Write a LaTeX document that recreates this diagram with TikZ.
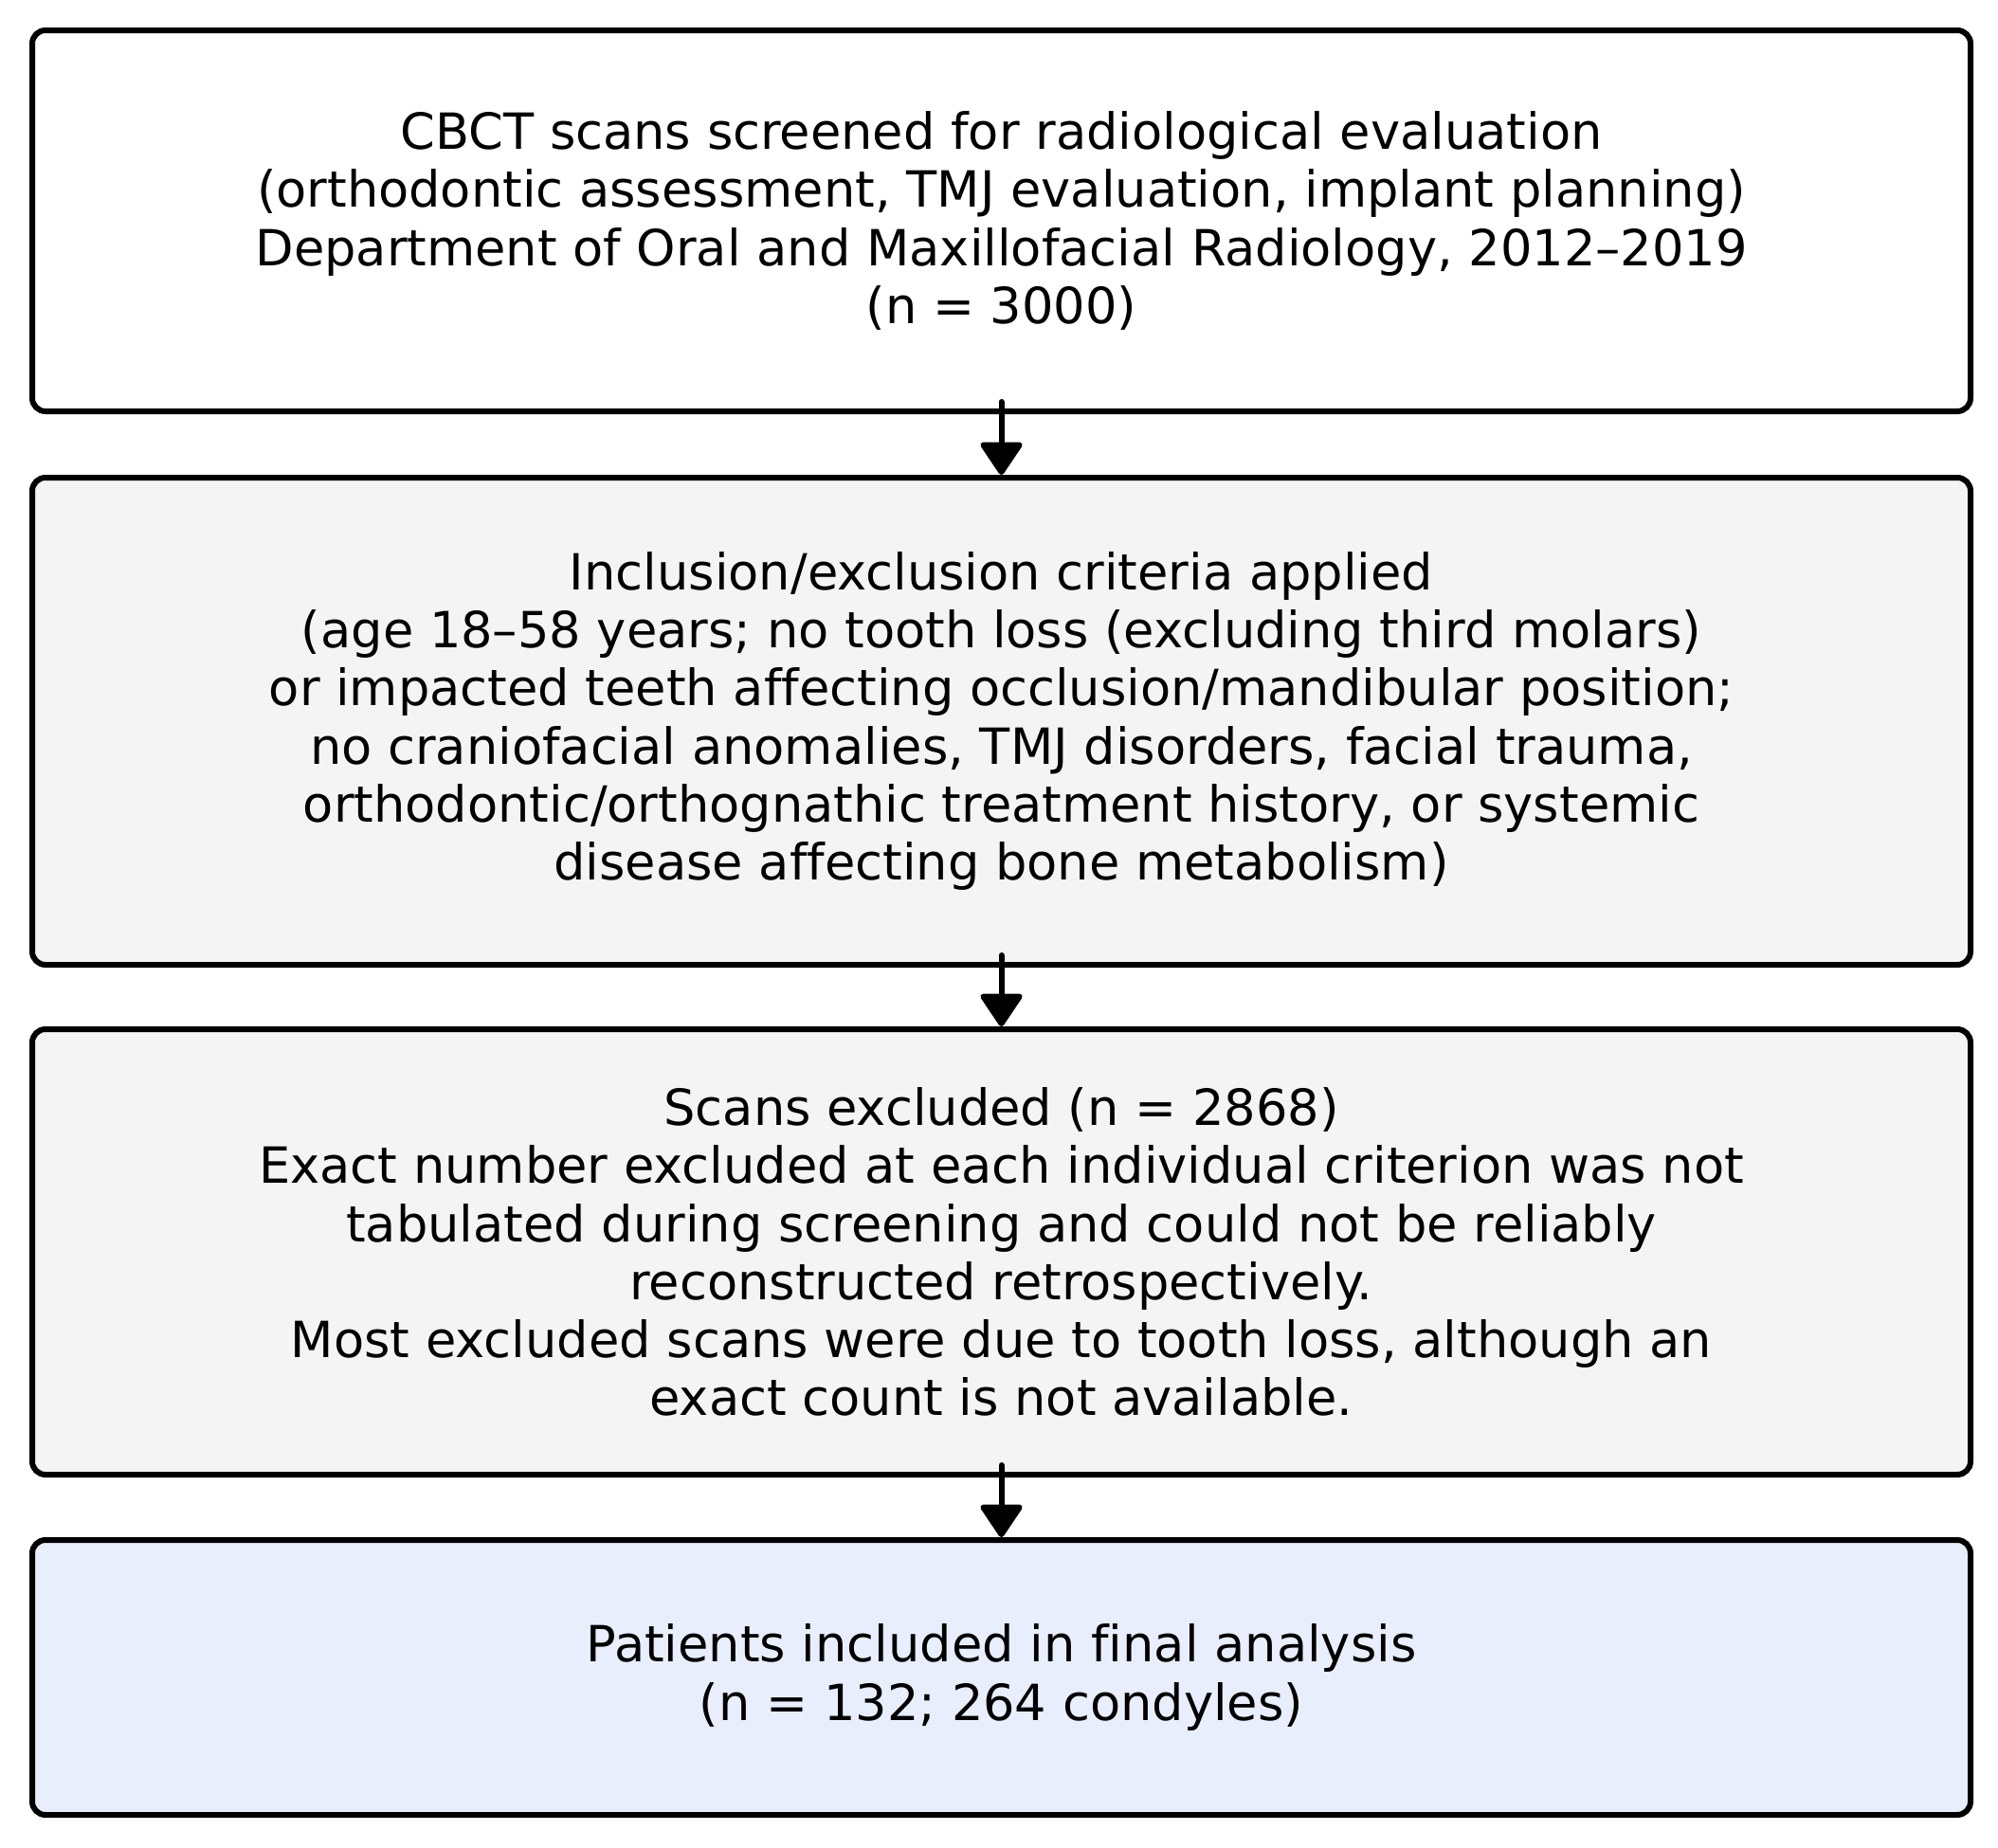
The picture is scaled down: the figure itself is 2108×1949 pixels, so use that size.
\documentclass[tikz,border=0pt]{standalone}
\usepackage{fontspec}
\setmainfont[Ligatures={NoCommon}]{DejaVu Sans}
\usetikzlibrary{arrows.meta}
\definecolor{boxgray}{HTML}{F4F4F4}
\definecolor{boxblue}{HTML}{E8EEFC}
\begin{document}
\begin{tikzpicture}[x=0.5pt,y=-0.5pt,
  box/.style={draw=black, line width=3pt, rounded corners=7pt,
    minimum width=1022.5pt, align=center, inner sep=0pt,
    font=\fontsize{26.3}{30.6}\selectfont},
  arr/.style={line width=3pt, line cap=round,
    -{Triangle[length=18.5pt,width=24pt,round]}}]
\useasboundingbox[fill=white] (0,0) rectangle (2108,1949);
\node[box, fill=white, minimum height=201pt] (b1) at (1056.5,233)
  {CBCT scans screened for radiological evaluation\\
   (orthodontic assessment, TMJ evaluation, implant planning)\\
   Department of Oral and Maxillofacial Radiology, 2012–2019\\
   (n = 3000)};
\node[box, fill=boxgray, minimum height=257pt] (b2) at (1056.5,761)
  {Inclusion/exclusion criteria applied\\
   (age 18–58 years; no tooth loss (excluding third molars)\\
   or impacted teeth affecting occlusion/mandibular position;\\
   no craniofacial anomalies, TMJ disorders, facial trauma,\\
   orthodontic/orthognathic treatment history, or systemic\\
   disease affecting bone metabolism)};
\node[box, fill=boxgray, minimum height=235pt] (b3) at (1056.5,1321)
  {Scans excluded (n = 2868)\\
   Exact number excluded at each individual criterion was not\\
   tabulated during screening and could not be reliably\\
   reconstructed retrospectively.\\
   Most excluded scans were due to tooth loss, although an\\
   exact count is not available.};
\node[box, fill=boxblue, minimum height=145pt] (b4) at (1056.5,1770)
  {Patients included in final analysis\\
   (n = 132; 264 condyles)};
\coordinate (s1) at ([yshift=6.5pt]b1.south);
\coordinate (s2) at ([yshift=6.5pt]b2.south);
\coordinate (s3) at ([yshift=6.5pt]b3.south);
\draw[arr] (s1) -- (b2.north);
\draw[arr] (s2) -- (b3.north);
\draw[arr] (s3) -- (b4.north);
\end{tikzpicture}
\end{document}
